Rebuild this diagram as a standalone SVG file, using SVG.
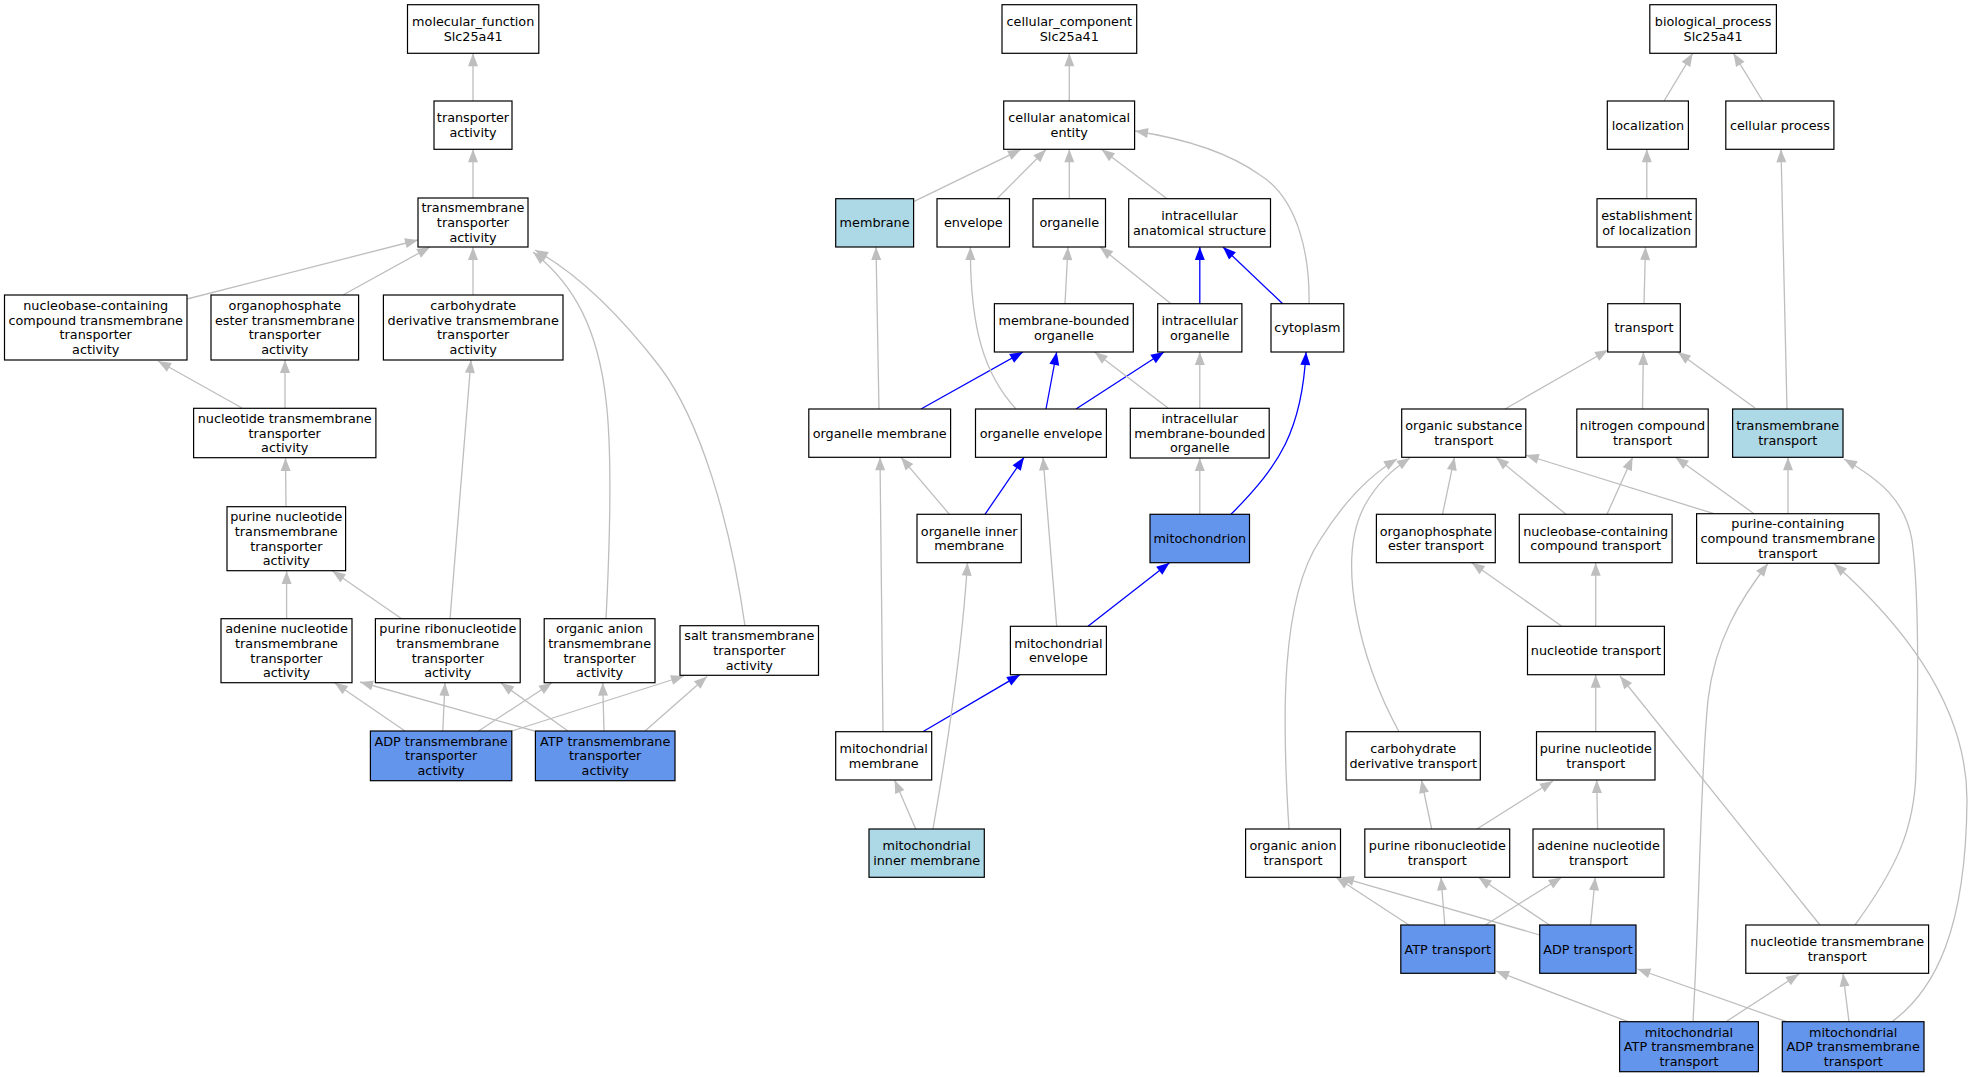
<svg xmlns="http://www.w3.org/2000/svg" width="1973" height="1077" viewBox="0 0 1973 1077">
<style>
.n rect{fill:#fff;stroke:#000;stroke-width:1.2}
.n.lb rect{fill:#ADD8E6}
.n.cb rect{fill:#6495ED}
.n text{font-family:"DejaVu Sans","Liberation Sans",sans-serif;font-size:12.8px;text-anchor:middle;fill:#000}
.e{fill:none;stroke:#BEBEBE;stroke-width:1.3;marker-end:url(#ag)}
.e.b{stroke:#0000FF;marker-end:url(#ab)}
</style>
<defs>
<marker id="ag" markerUnits="userSpaceOnUse" markerWidth="14" markerHeight="12" refX="13" refY="5.5" orient="auto" overflow="visible"><path d="M0,0.5 L13,5.5 L0,10.5 z" fill="#BEBEBE"/></marker>
<marker id="ab" markerUnits="userSpaceOnUse" markerWidth="14" markerHeight="12" refX="13" refY="5.5" orient="auto" overflow="visible"><path d="M0,0.5 L13,5.5 L0,10.5 z" fill="#0000FF"/></marker>
</defs>
<rect width="1973" height="1077" fill="#fff"/>
<g id="connectors">
<!-- MF -->
<path class="e" d="M473,101 L473,53.3"/>
<path class="e" d="M473,198 L473,149.3"/>
<path class="e" d="M187,299 L418,240"/>
<path class="e" d="M343,295 L430,247"/>
<path class="e" d="M473,295 L473,247"/>
<path class="e" d="M606,619 C610,540 612,450 606,400 C598,330 575,285 533,252"/>
<path class="e" d="M745,626 C730,520 700,420 660,367 C620,315 580,275 535,250"/>
<path class="e" d="M242,408 L158,361"/>
<path class="e" d="M285,408 L285,360"/>
<path class="e" d="M286,507 L285.5,458"/>
<path class="e" d="M286.6,619 L286.6,571"/>
<path class="e" d="M402,619 L332.5,571"/>
<path class="e" d="M450,619 L471,360"/>
<path class="e" d="M405,731 L334.6,682.7"/>
<path class="e" d="M442.8,731 L445,682.7"/>
<path class="e" d="M478.6,731 L552,682.7"/>
<path class="e" d="M512,731 L684,676"/>
<path class="e" d="M534.5,731 L360,682"/>
<path class="e" d="M568,731 L500.9,683"/>
<path class="e" d="M604,731 L602.7,682.7"/>
<path class="e" d="M645,731 L707,676.5"/>
<!-- CC -->
<path class="e" d="M1069.3,101 L1069.3,53.3"/>
<path class="e" d="M913.6,201.7 L1021,149.5"/>
<path class="e" d="M997,198.7 L1046,149.5"/>
<path class="e" d="M1069.3,198.7 L1069.3,149.3"/>
<path class="e" d="M1167,198.7 L1101.7,149.5"/>
<path class="e" d="M1309,304 C1310,260 1300,200 1260,175 C1225,150 1180,138 1135,131"/>
<path class="e" d="M1065,303.7 L1068,247"/>
<path class="e" d="M1171,303.7 L1100,247"/>
<path class="e b" d="M1199.8,303.7 L1199.8,247"/>
<path class="e b" d="M1282.7,303.7 L1223,247"/>
<path class="e b" d="M921,409 L1023,352"/>
<path class="e b" d="M1046,409 L1056.7,352"/>
<path class="e b" d="M1076,409 L1164,352"/>
<path class="e" d="M1168,408 L1094.6,352"/>
<path class="e" d="M1199.8,408.3 L1199.8,352"/>
<path class="e" d="M879,409 L876,247"/>
<path class="e" d="M1016,409 C985,375 970,330 970.4,247"/>
<path class="e" d="M949.4,514.3 L901,457.3"/>
<path class="e b" d="M985,514.3 L1024,457.3"/>
<path class="e" d="M1199.8,514.3 L1199.8,458"/>
<path class="e b" d="M1231,514.3 C1280,465 1302,430 1306,352"/>
<path class="e" d="M1056.7,626.3 L1043,457.3"/>
<path class="e b" d="M1088,626.3 L1169.5,562.7"/>
<path class="e" d="M883,731.7 L880,457.3"/>
<path class="e b" d="M922.8,731.7 L1020,674.7"/>
<path class="e" d="M915.7,829 L894.6,780"/>
<path class="e" d="M933,829 C945,760 962,650 967.5,562.7"/>
<!-- BP -->
<path class="e" d="M1664,101 L1692.7,53.3"/>
<path class="e" d="M1762.7,101 L1733.5,53.3"/>
<path class="e" d="M1646.8,198.7 L1646.8,149.3"/>
<path class="e" d="M1644,303.7 L1645.5,247"/>
<path class="e" d="M1787,409 L1781,149.3"/>
<path class="e" d="M1505,409 L1608,350"/>
<path class="e" d="M1642.5,409 L1643.4,352"/>
<path class="e" d="M1755,408 L1677.7,352"/>
<path class="e" d="M1442.5,514.3 L1454.5,457.3"/>
<path class="e" d="M1566,514.3 L1496,457.3"/>
<path class="e" d="M1607,514.3 L1632.6,457.3"/>
<path class="e" d="M1714,513.7 L1525.8,455"/>
<path class="e" d="M1754,513.7 L1675.5,457.3"/>
<path class="e" d="M1788,513.7 L1788,457.3"/>
<path class="e" d="M1561.8,626.3 L1471.7,562.7"/>
<path class="e" d="M1595.7,626.3 L1595.7,562.7"/>
<path class="e" d="M1289,829 C1282,720 1280,600 1320,540 C1345,500 1370,475 1397,459"/>
<path class="e" d="M1399,731.7 C1360,660 1335,560 1365,505 C1378,482 1392,470 1410,458"/>
<path class="e" d="M1431.7,829 L1421.4,780"/>
<path class="e" d="M1477,829 L1553,781"/>
<path class="e" d="M1597.6,829 L1596.7,780"/>
<path class="e" d="M1595.7,731.7 L1595.7,674.7"/>
<path class="e" d="M1409,925 L1336,877.3"/>
<path class="e" d="M1444.8,925 L1441,877.3"/>
<path class="e" d="M1485.4,925 L1561.6,877.3"/>
<path class="e" d="M1539.7,935 L1341,877.3"/>
<path class="e" d="M1549.5,925 L1478.4,877.3"/>
<path class="e" d="M1590.6,925 L1595.3,877.3"/>
<path class="e" d="M1820,925 L1620,676"/>
<path class="e" d="M1855,925 C1895,870 1915,830 1916,770 C1918,700 1920,600 1912,540 C1905,500 1880,480 1844,459"/>
<path class="e" d="M1628,1021.7 L1496,971"/>
<path class="e" d="M1726,1021.7 L1799,974"/>
<path class="e" d="M1693,1021.7 C1700,900 1700,780 1708,700 C1715,640 1740,600 1768,563.5"/>
<path class="e" d="M1786.6,1021.7 L1637.4,969"/>
<path class="e" d="M1849,1021.7 L1843,973.5"/>
<path class="e" d="M1892,1021.7 C1935,990 1966,930 1967,800 C1967,720 1920,640 1834,563.5"/>
</g>
<!-- MF nodes -->
<g id="n_molecular_function" class="n"><rect x="407.5" y="4.7" width="131.3" height="48.6"/><text x="473.2" y="26.2">molecular_function</text><text x="473.2" y="40.8">Slc25a41</text></g>
<g id="n_transporter_activity" class="n"><rect x="434" y="101" width="78" height="48.3"/><text x="473" y="122.3">transporter</text><text x="473" y="137">activity</text></g>
<g id="n_tm_transporter_activity" class="n"><rect x="418" y="198" width="110" height="49"/><text x="473" y="212.3">transmembrane</text><text x="473" y="227">transporter</text><text x="473" y="241.7">activity</text></g>
<g id="n_nucleobase_tmta" class="n"><rect x="4.5" y="295" width="182.5" height="65"/><text x="95.7" y="310">nucleobase-containing</text><text x="95.7" y="324.7">compound transmembrane</text><text x="95.7" y="339.3">transporter</text><text x="95.7" y="354">activity</text></g>
<g id="n_organophosphate_tmta" class="n"><rect x="211" y="295" width="147.6" height="65"/><text x="284.8" y="310">organophosphate</text><text x="284.8" y="324.7">ester transmembrane</text><text x="284.8" y="339.3">transporter</text><text x="284.8" y="354">activity</text></g>
<g id="n_carbohydrate_tmta" class="n"><rect x="383.4" y="295" width="179.6" height="65"/><text x="473.2" y="310">carbohydrate</text><text x="473.2" y="324.7">derivative transmembrane</text><text x="473.2" y="339.3">transporter</text><text x="473.2" y="354">activity</text></g>
<g id="n_nucleotide_tmta" class="n"><rect x="193.6" y="408.3" width="182.3" height="49.4"/><text x="284.7" y="422.8">nucleotide transmembrane</text><text x="284.7" y="437.5">transporter</text><text x="284.7" y="452.2">activity</text></g>
<g id="n_purine_nucleotide_tmta" class="n"><rect x="227" y="506.7" width="118.6" height="64"/><text x="286.3" y="521.2">purine nucleotide</text><text x="286.3" y="535.9">transmembrane</text><text x="286.3" y="550.5">transporter</text><text x="286.3" y="565.2">activity</text></g>
<g id="n_adenine_nucleotide_tmta" class="n"><rect x="221" y="618.7" width="131" height="64"/><text x="286.5" y="633.2">adenine nucleotide</text><text x="286.5" y="647.9">transmembrane</text><text x="286.5" y="662.5">transporter</text><text x="286.5" y="677.2">activity</text></g>
<g id="n_purine_ribonucleotide_tmta" class="n"><rect x="375.4" y="618.7" width="144.8" height="64"/><text x="447.8" y="633.2">purine ribonucleotide</text><text x="447.8" y="647.9">transmembrane</text><text x="447.8" y="662.5">transporter</text><text x="447.8" y="677.2">activity</text></g>
<g id="n_organic_anion_tmta" class="n"><rect x="544.2" y="618.7" width="110.8" height="64"/><text x="599.6" y="633.2">organic anion</text><text x="599.6" y="647.9">transmembrane</text><text x="599.6" y="662.5">transporter</text><text x="599.6" y="677.2">activity</text></g>
<g id="n_salt_tmta" class="n"><rect x="680" y="625.7" width="138.5" height="49.6"/><text x="749.3" y="640.3">salt transmembrane</text><text x="749.3" y="655">transporter</text><text x="749.3" y="669.7">activity</text></g>
<g id="n_adp_tmta" class="n cb"><rect x="370.4" y="731" width="141.4" height="49.7"/><text x="441.1" y="745.7">ADP transmembrane</text><text x="441.1" y="760.4">transporter</text><text x="441.1" y="775.1">activity</text></g>
<g id="n_atp_tmta" class="n cb"><rect x="535.4" y="731" width="139.6" height="49.7"/><text x="605.2" y="745.7">ATP transmembrane</text><text x="605.2" y="760.4">transporter</text><text x="605.2" y="775.1">activity</text></g>
<!-- CC nodes -->
<g id="n_cellular_component" class="n"><rect x="1002" y="4.7" width="134.7" height="48.6"/><text x="1069.3" y="26.2">cellular_component</text><text x="1069.3" y="40.8">Slc25a41</text></g>
<g id="n_cellular_anatomical_entity" class="n"><rect x="1003.7" y="101" width="130.9" height="48.3"/><text x="1069.2" y="122.3">cellular anatomical</text><text x="1069.2" y="137">entity</text></g>
<g id="n_membrane" class="n lb"><rect x="835.7" y="198.7" width="77.9" height="48.3"/><text x="874.6" y="227.3">membrane</text></g>
<g id="n_envelope" class="n"><rect x="937" y="198.7" width="72.5" height="48.3"/><text x="973.3" y="227.3">envelope</text></g>
<g id="n_organelle" class="n"><rect x="1033" y="198.7" width="72.5" height="48.3"/><text x="1069.3" y="227.3">organelle</text></g>
<g id="n_intracellular_anatomical_structure" class="n"><rect x="1128.7" y="198.7" width="141.8" height="48.3"/><text x="1199.6" y="220">intracellular</text><text x="1199.6" y="234.7">anatomical structure</text></g>
<g id="n_membrane_bounded_organelle" class="n"><rect x="994.4" y="303.7" width="138.9" height="48.3"/><text x="1063.9" y="325">membrane-bounded</text><text x="1063.9" y="339.7">organelle</text></g>
<g id="n_intracellular_organelle" class="n"><rect x="1157.7" y="303.7" width="84.2" height="48.3"/><text x="1199.8" y="325">intracellular</text><text x="1199.8" y="339.7">organelle</text></g>
<g id="n_cytoplasm" class="n"><rect x="1271" y="303.7" width="72.8" height="48.3"/><text x="1307.4" y="332.3">cytoplasm</text></g>
<g id="n_organelle_membrane" class="n"><rect x="808.8" y="409" width="141.8" height="48.3"/><text x="879.7" y="437.6">organelle membrane</text></g>
<g id="n_organelle_envelope" class="n"><rect x="975.5" y="409" width="130.9" height="48.3"/><text x="1041" y="437.6">organelle envelope</text></g>
<g id="n_intracellular_mbo" class="n"><rect x="1130.3" y="408.3" width="138.9" height="49.7"/><text x="1199.8" y="423">intracellular</text><text x="1199.8" y="437.6">membrane-bounded</text><text x="1199.8" y="452.3">organelle</text></g>
<g id="n_organelle_inner_membrane" class="n"><rect x="917" y="514.3" width="104.3" height="48.4"/><text x="969.2" y="535.7">organelle inner</text><text x="969.2" y="550.3">membrane</text></g>
<g id="n_mitochondrion" class="n cb"><rect x="1150" y="514.3" width="99.5" height="48.4"/><text x="1199.8" y="543">mitochondrion</text></g>
<g id="n_mitochondrial_envelope" class="n"><rect x="1010.4" y="626.3" width="96" height="48.4"/><text x="1058.4" y="647.7">mitochondrial</text><text x="1058.4" y="662.3">envelope</text></g>
<g id="n_mitochondrial_membrane" class="n"><rect x="835.7" y="731.7" width="96" height="48.3"/><text x="883.7" y="753">mitochondrial</text><text x="883.7" y="767.7">membrane</text></g>
<g id="n_mitochondrial_inner_membrane" class="n lb"><rect x="869" y="829" width="115.3" height="48.3"/><text x="926.7" y="850.3">mitochondrial</text><text x="926.7" y="865">inner membrane</text></g>
<!-- BP nodes -->
<g id="n_biological_process" class="n"><rect x="1649.8" y="4.7" width="126.6" height="48.6"/><text x="1713.1" y="26.2">biological_process</text><text x="1713.1" y="40.8">Slc25a41</text></g>
<g id="n_localization" class="n"><rect x="1607.3" y="101" width="81.1" height="48.3"/><text x="1647.9" y="129.6">localization</text></g>
<g id="n_cellular_process" class="n"><rect x="1725.8" y="101" width="108.1" height="48.3"/><text x="1779.9" y="129.6">cellular process</text></g>
<g id="n_establishment_of_localization" class="n"><rect x="1597" y="198.7" width="99.2" height="48.3"/><text x="1646.6" y="220">establishment</text><text x="1646.6" y="234.7">of localization</text></g>
<g id="n_transport" class="n"><rect x="1607.7" y="303.7" width="72.6" height="48.3"/><text x="1644" y="332.3">transport</text></g>
<g id="n_organic_substance_transport" class="n"><rect x="1401.7" y="409" width="124.1" height="48.3"/><text x="1463.8" y="430.3">organic substance</text><text x="1463.8" y="445">transport</text></g>
<g id="n_nitrogen_compound_transport" class="n"><rect x="1576.8" y="409" width="131.4" height="48.3"/><text x="1642.5" y="430.3">nitrogen compound</text><text x="1642.5" y="445">transport</text></g>
<g id="n_transmembrane_transport" class="n lb"><rect x="1732.6" y="409" width="110.4" height="48.3"/><text x="1787.8" y="430.3">transmembrane</text><text x="1787.8" y="445">transport</text></g>
<g id="n_organophosphate_ester_transport" class="n"><rect x="1376.4" y="514.3" width="118.9" height="48.4"/><text x="1435.9" y="535.7">organophosphate</text><text x="1435.9" y="550.3">ester transport</text></g>
<g id="n_nucleobase_compound_transport" class="n"><rect x="1519.3" y="514.3" width="152.8" height="48.4"/><text x="1595.7" y="535.7">nucleobase-containing</text><text x="1595.7" y="550.3">compound transport</text></g>
<g id="n_purine_containing_tm_transport" class="n"><rect x="1696.6" y="513.7" width="182.4" height="49.6"/><text x="1787.8" y="528.3">purine-containing</text><text x="1787.8" y="543">compound transmembrane</text><text x="1787.8" y="557.7">transport</text></g>
<g id="n_nucleotide_transport" class="n"><rect x="1527.5" y="626.3" width="136.9" height="48.4"/><text x="1596" y="655">nucleotide transport</text></g>
<g id="n_carbohydrate_derivative_transport" class="n"><rect x="1346" y="731.7" width="134.3" height="48.3"/><text x="1413.2" y="753">carbohydrate</text><text x="1413.2" y="767.7">derivative transport</text></g>
<g id="n_purine_nucleotide_transport" class="n"><rect x="1536.5" y="731.7" width="118.5" height="48.3"/><text x="1595.8" y="753">purine nucleotide</text><text x="1595.8" y="767.7">transport</text></g>
<g id="n_organic_anion_transport" class="n"><rect x="1245.6" y="829" width="94.9" height="48.3"/><text x="1293" y="850.3">organic anion</text><text x="1293" y="865">transport</text></g>
<g id="n_purine_ribonucleotide_transport" class="n"><rect x="1364.8" y="829" width="144.9" height="48.3"/><text x="1437.3" y="850.3">purine ribonucleotide</text><text x="1437.3" y="865">transport</text></g>
<g id="n_adenine_nucleotide_transport" class="n"><rect x="1533" y="829" width="131" height="48.3"/><text x="1598.5" y="850.3">adenine nucleotide</text><text x="1598.5" y="865">transport</text></g>
<g id="n_atp_transport" class="n cb"><rect x="1400.8" y="925" width="94" height="48.3"/><text x="1447.8" y="953.6">ATP transport</text></g>
<g id="n_adp_transport" class="n cb"><rect x="1539.7" y="925" width="96.3" height="48.3"/><text x="1587.9" y="953.6">ADP transport</text></g>
<g id="n_nucleotide_tm_transport" class="n"><rect x="1745.8" y="925" width="182.8" height="48.3"/><text x="1837.2" y="946.3">nucleotide transmembrane</text><text x="1837.2" y="961">transport</text></g>
<g id="n_mito_atp_tm_transport" class="n cb"><rect x="1619.6" y="1021.7" width="138.8" height="50"/><text x="1689" y="1036.5">mitochondrial</text><text x="1689" y="1051.2">ATP transmembrane</text><text x="1689" y="1065.9">transport</text></g>
<g id="n_mito_adp_tm_transport" class="n cb"><rect x="1782.3" y="1021.7" width="141.7" height="50"/><text x="1853.2" y="1036.5">mitochondrial</text><text x="1853.2" y="1051.2">ADP transmembrane</text><text x="1853.2" y="1065.9">transport</text></g>
</svg>
